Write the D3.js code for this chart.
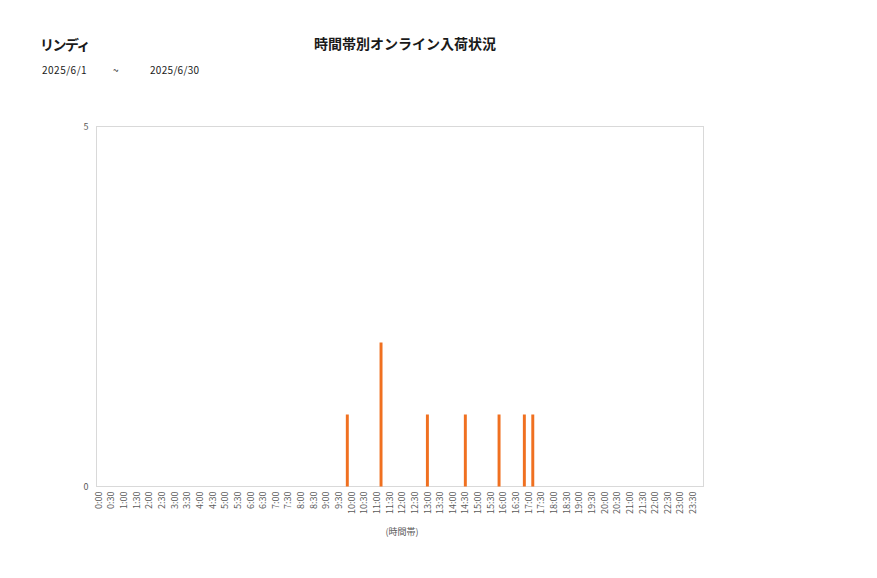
<!DOCTYPE html>
<html><head><meta charset="utf-8">
<script src="https://cdn.jsdelivr.net/npm/d3@7"></script>
<style>
body{margin:0;background:#fff;}
text{font-family:"Noto Sans CJK JP","Noto Sans",sans-serif;}
</style></head>
<body><svg id="c" width="877" height="578"></svg>
<script>
const shopName = "リンディ";
const chartTitle = "時間帯別オンライン入荷状況";
const dateFrom = "2025/6/1";
const dateTo = "2025/6/30";
const xAxisTitle = "(時間帯)";
// 10-minute time slots (144)
const slots = [
"0:00","0:10","0:20","0:30","0:40","0:50","1:00","1:10","1:20","1:30","1:40","1:50",
"2:00","2:10","2:20","2:30","2:40","2:50","3:00","3:10","3:20","3:30","3:40","3:50",
"4:00","4:10","4:20","4:30","4:40","4:50","5:00","5:10","5:20","5:30","5:40","5:50",
"6:00","6:10","6:20","6:30","6:40","6:50","7:00","7:10","7:20","7:30","7:40","7:50",
"8:00","8:10","8:20","8:30","8:40","8:50","9:00","9:10","9:20","9:30","9:40","9:50",
"10:00","10:10","10:20","10:30","10:40","10:50","11:00","11:10","11:20","11:30","11:40","11:50",
"12:00","12:10","12:20","12:30","12:40","12:50","13:00","13:10","13:20","13:30","13:40","13:50",
"14:00","14:10","14:20","14:30","14:40","14:50","15:00","15:10","15:20","15:30","15:40","15:50",
"16:00","16:10","16:20","16:30","16:40","16:50","17:00","17:10","17:20","17:30","17:40","17:50",
"18:00","18:10","18:20","18:30","18:40","18:50","19:00","19:10","19:20","19:30","19:40","19:50",
"20:00","20:10","20:20","20:30","20:40","20:50","21:00","21:10","21:20","21:30","21:40","21:50",
"22:00","22:10","22:20","22:30","22:40","22:50","23:00","23:10","23:20","23:30","23:40","23:50"];
const counts = [
0,0,0,0,0,0,0,0,0,0,0,0,
0,0,0,0,0,0,0,0,0,0,0,0,
0,0,0,0,0,0,0,0,0,0,0,0,
0,0,0,0,0,0,0,0,0,0,0,0,
0,0,0,0,0,0,0,0,0,0,0,1,
0,0,0,0,0,0,0,2,0,0,0,0,
0,0,0,0,0,0,1,0,0,0,0,0,
0,0,0,1,0,0,0,0,0,0,0,1,
0,0,0,0,0,1,0,1,0,0,0,0,
0,0,0,0,0,0,0,0,0,0,0,0,
0,0,0,0,0,0,0,0,0,0,0,0,
0,0,0,0,0,0,0,0,0,0,0,0];
const tickLabels = ["0:00","0:30","1:00","1:30","2:00","2:30","3:00","3:30","4:00","4:30","5:00","5:30",
"6:00","6:30","7:00","7:30","8:00","8:30","9:00","9:30","10:00","10:30","11:00","11:30",
"12:00","12:30","13:00","13:30","14:00","14:30","15:00","15:30","16:00","16:30","17:00","17:30",
"18:00","18:30","19:00","19:30","20:00","20:30","21:00","21:30","22:00","22:30","23:00","23:30"];
const yTicks = [0, 5];

const svg = d3.select("#c");
const L = 96.5, R = 703.5, T = 126.5, B = 486.5;
const x = d3.scaleBand().domain(slots).range([L, R]).paddingInner(0.3).paddingOuter(0.15);
const y = d3.scaleLinear().domain([0, 5]).range([B, T]);

svg.append("rect").attr("x", L).attr("y", T).attr("width", R - L).attr("height", B - T)
  .attr("fill", "none").attr("stroke", "#d9d9d9").attr("stroke-width", 1);

svg.append("g").selectAll("rect").data(slots.map((s, i) => ({s, v: counts[i]})).filter(d => d.v > 0))
  .join("rect")
  .attr("x", d => x(d.s)).attr("width", x.bandwidth())
  .attr("y", d => y(d.v)).attr("height", d => y(0) - y(d.v))
  .attr("fill", "#f07020");

// x axis
const tickSet = new Set(tickLabels);
const xa = svg.append("g").attr("transform", `translate(0,${B})`)
  .call(d3.axisBottom(x).tickValues(slots.filter(s => tickSet.has(s))).tickSize(0).tickPadding(0));
xa.select(".domain").remove();
xa.selectAll("text")
  .attr("transform", "rotate(-90)")
  .attr("x", -5).attr("y", 0).attr("dy", "0.35em")
  .attr("text-anchor", "end")
  .attr("fill", "#595959").attr("font-size", "9px")
  .style("font-family", '"Noto Sans CJK JP",sans-serif');

// y axis
const ya = svg.append("g").attr("transform", `translate(${L},0)`)
  .call(d3.axisLeft(y).tickValues(yTicks).tickFormat(d3.format("d")).tickSize(0).tickPadding(8));
ya.select(".domain").remove();
ya.selectAll("text").attr("fill", "#595959").attr("font-size", "9px")
  .style("font-family", '"Noto Sans CJK JP",sans-serif');

// titles
svg.append("text").attr("x", 40).attr("y", 50).text(shopName)
  .attr("font-size", "14px").attr("letter-spacing", "-1.5px").attr("font-weight", "bold").attr("fill", "#1a1a1a");
svg.append("text").attr("x", 405).attr("y", 49).attr("text-anchor", "middle").text(chartTitle)
  .attr("font-size", "14px").attr("font-weight", "bold").attr("fill", "#1a1a1a");
svg.append("text").attr("x", 42).attr("y", 74).text(dateFrom).attr("font-size", "10px").attr("letter-spacing", "0.5px").attr("fill", "#1a1a1a");
svg.append("text").attr("x", 113).attr("y", 74).text("~").attr("font-size", "10px").attr("fill", "#1a1a1a");
svg.append("text").attr("x", 150).attr("y", 74).text(dateTo).attr("font-size", "10px").attr("letter-spacing", "0.3px").attr("fill", "#1a1a1a");
svg.append("text").attr("x", 402).attr("y", 535).attr("text-anchor", "middle").text(xAxisTitle)
  .attr("font-size", "9px").attr("fill", "#595959");
</script></body></html>
